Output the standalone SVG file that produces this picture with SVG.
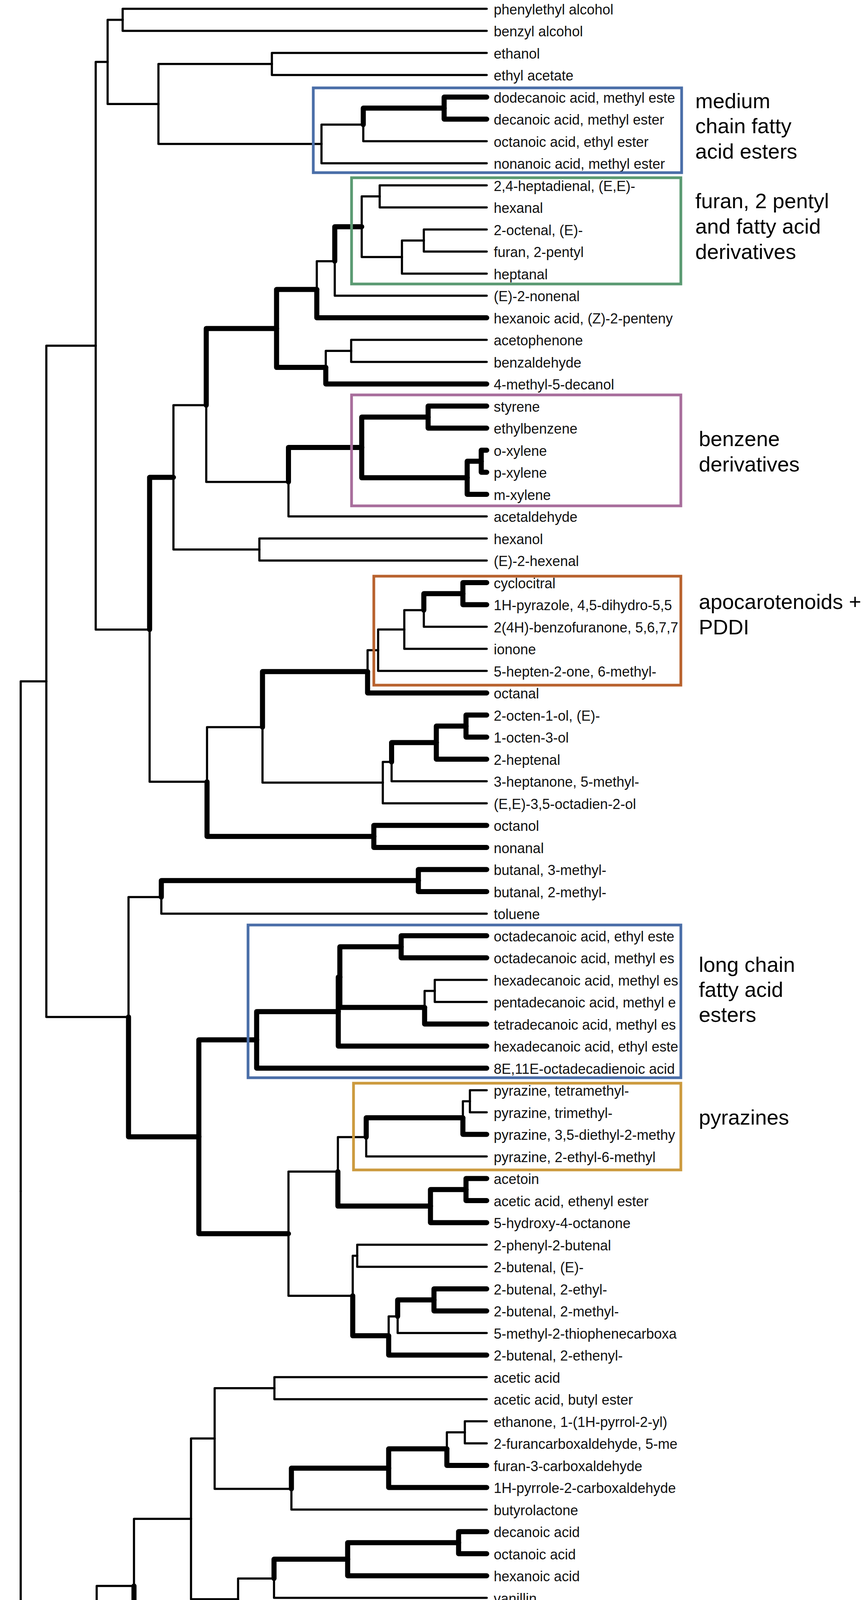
<svg xmlns="http://www.w3.org/2000/svg" width="2217" height="4788" viewBox="0 0 2217 4788">
<style>
.t{fill:none;stroke:#000;stroke-width:5.5;stroke-linecap:round;stroke-linejoin:round}
.k{fill:none;stroke:#000;stroke-width:13;stroke-linecap:round;stroke-linejoin:round}
.lab{font-family:"Liberation Sans",Arial,Helvetica,sans-serif;font-size:36px;fill:#111}
.ann{font-family:"Liberation Sans",Arial,Helvetica,sans-serif;font-size:54px;fill:#000}
.box{fill:none;stroke-width:7}
.axl{font-family:"Liberation Sans",Arial,Helvetica,sans-serif;font-size:38px;fill:#111;text-anchor:middle}
</style>
<rect x="0" y="0" width="2217" height="4788" fill="#fff"/>
<g id="connectors">
<g id="thin-edges">
<path class="t" d="M314 50.75V22.5H1246"/><path class="t" d="M314 50.75V79H1246"/>
<path class="t" d="M696 163.75V135.5H1246"/><path class="t" d="M696 163.75V192H1246"/>
<path class="t" d="M930 319.1V361.5H1246"/>
<path class="t" d="M823 368.6V319.1H930"/><path class="t" d="M823 368.6V418H1246"/>
<path class="t" d="M405.6 266.2V163.75H696"/><path class="t" d="M405.6 266.2V368.6H823"/>
<path class="t" d="M275.5 158.5V50.75H314"/><path class="t" d="M275.5 158.5V266.2H405.6"/>
<path class="t" d="M245 885V158.5H275.5"/><path class="t" d="M245 885V1611.7H383"/>
<path class="t" d="M383 1611.7V2001.3H530"/>
<path class="t" d="M444 1222V1037.3H528"/><path class="t" d="M444 1222V1406.75H664"/>
<path class="t" d="M528 1037.3V1233.7H738.5"/>
<path class="t" d="M811 741.1V668.7H857"/>
<path class="t" d="M857 668.7V757H1246"/>
<path class="t" d="M926 580.4V502.75H972"/><path class="t" d="M926 580.4V658.1H1029"/>
<path class="t" d="M972 502.75V474.5H1246"/><path class="t" d="M972 502.75V531H1246"/>
<path class="t" d="M1029 658.1V615.75H1085"/><path class="t" d="M1029 658.1V700.5H1246"/>
<path class="t" d="M1085 615.75V587.5H1246"/><path class="t" d="M1085 615.75V644H1246"/>
<path class="t" d="M834 940.6V898.25H899"/>
<path class="t" d="M899 898.25V870H1246"/><path class="t" d="M899 898.25V926.5H1246"/>
<path class="t" d="M738.5 1233.7V1322H1246"/>
<path class="t" d="M664 1406.75V1378.5H1246"/><path class="t" d="M664 1406.75V1435H1246"/>
<path class="t" d="M530 2001.3V1861.4H672"/>
<path class="t" d="M672 1861.4V2003.5H980"/>
<path class="t" d="M941 1719.3V1664.5H968"/>
<path class="t" d="M968 1664.5V1611.6H1035"/><path class="t" d="M968 1664.5V1717.5H1246"/>
<path class="t" d="M1035 1611.6V1562.1H1085"/><path class="t" d="M1035 1611.6V1661H1246"/>
<path class="t" d="M1085 1562.1V1604.5H1246"/>
<path class="t" d="M980 2003.5V1950.6H1002.5"/><path class="t" d="M980 2003.5V2056.5H1246"/>
<path class="t" d="M1002.5 1950.6V2000H1246"/>
<path class="t" d="M118.6 1744.2V885H245"/><path class="t" d="M118.6 1744.2V2603.4H329"/>
<path class="t" d="M329 2603.4V2296.6H413"/>
<path class="t" d="M413 2296.6V2339H1246"/>
<path class="t" d="M1087 2579.1V2536.75H1113"/>
<path class="t" d="M1113 2536.75V2508.5H1246"/><path class="t" d="M1113 2536.75V2565H1246"/>
<path class="t" d="M738.5 3158.25V2999.3H865"/><path class="t" d="M738.5 3158.25V3317.2H903"/>
<path class="t" d="M865 2999.3V2911.1H937.5"/>
<path class="t" d="M937.5 2911.1V2960.5H1246"/>
<path class="t" d="M1185 2861.6V2819.25H1203"/>
<path class="t" d="M1203 2819.25V2791H1246"/><path class="t" d="M1203 2819.25V2847.5H1246"/>
<path class="t" d="M903 3317.2V3214.75H914.5"/>
<path class="t" d="M914.5 3214.75V3186.5H1246"/><path class="t" d="M914.5 3214.75V3243H1246"/>
<path class="t" d="M995 3419.6V3370.1H1018"/>
<path class="t" d="M1018 3370.1V3412.5H1246"/>
<path class="t" d="M53 3049.5V1744.2H118.6"/><path class="t" d="M53 3049.5V4354.8H141"/>
<path class="t" d="M141 4354.8V4223.6H247.5"/><path class="t" d="M141 4354.8V4486H1246"/>
<path class="t" d="M247.5 4223.6V4060H343"/><path class="t" d="M247.5 4223.6V4387.1H445.5"/>
<path class="t" d="M343 4060V3888.3H489"/>
<path class="t" d="M445.5 4387.1V4429.5H1246"/>
<path class="t" d="M489 3888.3V3682.6H549.5"/><path class="t" d="M489 3888.3V4094H609.5"/>
<path class="t" d="M549.5 3682.6V3553.75H702.5"/><path class="t" d="M549.5 3682.6V3811.5H746"/>
<path class="t" d="M702.5 3553.75V3525.5H1246"/><path class="t" d="M702.5 3553.75V3582H1246"/>
<path class="t" d="M746 3811.5V3864.5H1246"/>
<path class="t" d="M1144 3709.1V3666.75H1190"/>
<path class="t" d="M1190 3666.75V3638.5H1246"/><path class="t" d="M1190 3666.75V3695H1246"/>
<path class="t" d="M609.5 4094V4041H701.5"/><path class="t" d="M609.5 4094V4147H1246"/>
<path class="t" d="M701.5 4041V4090.5H1246"/>
</g>
<g id="thick-edges">
<path class="k" d="M1137 276.75V248.5H1246"/><path class="k" d="M1137 276.75V305H1246"/>
<path class="k" d="M930 319.1V276.75H1137"/>
<path class="k" d="M383 1611.7V1222H444"/>
<path class="k" d="M528 1037.3V840.9H708"/>
<path class="k" d="M708 840.9V741.1H811"/><path class="k" d="M708 840.9V940.6H834"/>
<path class="k" d="M811 741.1V813.5H1246"/>
<path class="k" d="M857 668.7V580.4H926"/>
<path class="k" d="M834 940.6V983H1246"/>
<path class="k" d="M738.5 1233.7V1145.4H926"/>
<path class="k" d="M926 1145.4V1067.75H1096"/><path class="k" d="M926 1145.4V1223.1H1196"/>
<path class="k" d="M1096 1067.75V1039.5H1246"/><path class="k" d="M1096 1067.75V1096H1246"/>
<path class="k" d="M1196 1223.1V1180.75H1232"/><path class="k" d="M1196 1223.1V1265.5H1246"/>
<path class="k" d="M1232 1180.75V1152.5H1246"/><path class="k" d="M1232 1180.75V1209H1246"/>
<path class="k" d="M530 2001.3V2141.25H957"/>
<path class="k" d="M672 1861.4V1719.3H941"/>
<path class="k" d="M941 1719.3V1774H1246"/>
<path class="k" d="M1085 1562.1V1519.75H1185"/>
<path class="k" d="M1185 1519.75V1491.5H1246"/><path class="k" d="M1185 1519.75V1548H1246"/>
<path class="k" d="M1002.5 1950.6V1901.1H1117"/>
<path class="k" d="M1117 1901.1V1858.75H1193"/><path class="k" d="M1117 1901.1V1943.5H1246"/>
<path class="k" d="M1193 1858.75V1830.5H1246"/><path class="k" d="M1193 1858.75V1887H1246"/>
<path class="k" d="M957 2141.25V2113H1246"/><path class="k" d="M957 2141.25V2169.5H1246"/>
<path class="k" d="M329 2603.4V2910.2H509"/>
<path class="k" d="M413 2296.6V2254.25H1071"/>
<path class="k" d="M1071 2254.25V2226H1246"/><path class="k" d="M1071 2254.25V2282.5H1246"/>
<path class="k" d="M509 2910.2V2662.1H657"/><path class="k" d="M509 2910.2V3158.25H738.5"/>
<path class="k" d="M657 2662.1V2589.7H866"/><path class="k" d="M657 2662.1V2734.5H1246"/>
<path class="k" d="M866 2589.7V2501.4H870"/><path class="k" d="M866 2589.7V2678H1246"/>
<path class="k" d="M870 2501.4V2423.75H1027"/><path class="k" d="M870 2501.4V2579.1H1087"/>
<path class="k" d="M1027 2423.75V2395.5H1246"/><path class="k" d="M1027 2423.75V2452H1246"/>
<path class="k" d="M1087 2579.1V2621.5H1246"/>
<path class="k" d="M865 2999.3V3087.6H1102"/>
<path class="k" d="M937.5 2911.1V2861.6H1185"/>
<path class="k" d="M1185 2861.6V2904H1246"/>
<path class="k" d="M1102 3087.6V3045.25H1193"/><path class="k" d="M1102 3087.6V3130H1246"/>
<path class="k" d="M1193 3045.25V3017H1246"/><path class="k" d="M1193 3045.25V3073.5H1246"/>
<path class="k" d="M903 3317.2V3419.6H995"/>
<path class="k" d="M995 3419.6V3469H1246"/>
<path class="k" d="M1018 3370.1V3327.75H1111"/>
<path class="k" d="M1111 3327.75V3299.5H1246"/><path class="k" d="M1111 3327.75V3356H1246"/>
<path class="k" d="M343 4060V4231.75H1067.6"/>
<path class="k" d="M1067.6 4231.75V4203.5H1246"/><path class="k" d="M1067.6 4231.75V4260H1246"/>
<path class="k" d="M445.5 4387.1V4344.75H1011"/>
<path class="k" d="M1011 4344.75V4316.5H1246"/><path class="k" d="M1011 4344.75V4373H1246"/>
<path class="k" d="M746 3811.5V3758.6H995"/>
<path class="k" d="M995 3758.6V3709.1H1144"/><path class="k" d="M995 3758.6V3808H1246"/>
<path class="k" d="M1144 3709.1V3751.5H1246"/>
<path class="k" d="M701.5 4041V3991.6H890"/>
<path class="k" d="M890 3991.6V3949.25H1174"/><path class="k" d="M890 3991.6V4034H1246"/>
<path class="k" d="M1174 3949.25V3921H1246"/><path class="k" d="M1174 3949.25V3977.5H1246"/>
</g>
</g>
<g id="leaves">
<g id="leaf-1"><text class="lab" x="1264" y="36.5">phenylethyl alcohol</text></g>
<g id="leaf-2"><text class="lab" x="1264" y="93">benzyl alcohol</text></g>
<g id="leaf-3"><text class="lab" x="1264" y="149.5">ethanol</text></g>
<g id="leaf-4"><text class="lab" x="1264" y="206">ethyl acetate</text></g>
<g id="leaf-5"><text class="lab" x="1264" y="262.5">dodecanoic acid, methyl este</text></g>
<g id="leaf-6"><text class="lab" x="1264" y="319">decanoic acid, methyl ester</text></g>
<g id="leaf-7"><text class="lab" x="1264" y="375.5">octanoic acid, ethyl ester</text></g>
<g id="leaf-8"><text class="lab" x="1264" y="432">nonanoic acid, methyl ester</text></g>
<g id="leaf-9"><text class="lab" x="1264" y="488.5">2,4-heptadienal, (E,E)-</text></g>
<g id="leaf-10"><text class="lab" x="1264" y="545">hexanal</text></g>
<g id="leaf-11"><text class="lab" x="1264" y="601.5">2-octenal, (E)-</text></g>
<g id="leaf-12"><text class="lab" x="1264" y="658">furan, 2-pentyl</text></g>
<g id="leaf-13"><text class="lab" x="1264" y="714.5">heptanal</text></g>
<g id="leaf-14"><text class="lab" x="1264" y="771">(E)-2-nonenal</text></g>
<g id="leaf-15"><text class="lab" x="1264" y="827.5">hexanoic acid, (Z)-2-penteny</text></g>
<g id="leaf-16"><text class="lab" x="1264" y="884">acetophenone</text></g>
<g id="leaf-17"><text class="lab" x="1264" y="940.5">benzaldehyde</text></g>
<g id="leaf-18"><text class="lab" x="1264" y="997">4-methyl-5-decanol</text></g>
<g id="leaf-19"><text class="lab" x="1264" y="1053.5">styrene</text></g>
<g id="leaf-20"><text class="lab" x="1264" y="1110">ethylbenzene</text></g>
<g id="leaf-21"><text class="lab" x="1264" y="1166.5">o-xylene</text></g>
<g id="leaf-22"><text class="lab" x="1264" y="1223">p-xylene</text></g>
<g id="leaf-23"><text class="lab" x="1264" y="1279.5">m-xylene</text></g>
<g id="leaf-24"><text class="lab" x="1264" y="1336">acetaldehyde</text></g>
<g id="leaf-25"><text class="lab" x="1264" y="1392.5">hexanol</text></g>
<g id="leaf-26"><text class="lab" x="1264" y="1449">(E)-2-hexenal</text></g>
<g id="leaf-27"><text class="lab" x="1264" y="1505.5">cyclocitral</text></g>
<g id="leaf-28"><text class="lab" x="1264" y="1562">1H-pyrazole, 4,5-dihydro-5,5</text></g>
<g id="leaf-29"><text class="lab" x="1264" y="1618.5">2(4H)-benzofuranone, 5,6,7,7</text></g>
<g id="leaf-30"><text class="lab" x="1264" y="1675">ionone</text></g>
<g id="leaf-31"><text class="lab" x="1264" y="1731.5">5-hepten-2-one, 6-methyl-</text></g>
<g id="leaf-32"><text class="lab" x="1264" y="1788">octanal</text></g>
<g id="leaf-33"><text class="lab" x="1264" y="1844.5">2-octen-1-ol, (E)-</text></g>
<g id="leaf-34"><text class="lab" x="1264" y="1901">1-octen-3-ol</text></g>
<g id="leaf-35"><text class="lab" x="1264" y="1957.5">2-heptenal</text></g>
<g id="leaf-36"><text class="lab" x="1264" y="2014">3-heptanone, 5-methyl-</text></g>
<g id="leaf-37"><text class="lab" x="1264" y="2070.5">(E,E)-3,5-octadien-2-ol</text></g>
<g id="leaf-38"><text class="lab" x="1264" y="2127">octanol</text></g>
<g id="leaf-39"><text class="lab" x="1264" y="2183.5">nonanal</text></g>
<g id="leaf-40"><text class="lab" x="1264" y="2240">butanal, 3-methyl-</text></g>
<g id="leaf-41"><text class="lab" x="1264" y="2296.5">butanal, 2-methyl-</text></g>
<g id="leaf-42"><text class="lab" x="1264" y="2353">toluene</text></g>
<g id="leaf-43"><text class="lab" x="1264" y="2409.5">octadecanoic acid, ethyl este</text></g>
<g id="leaf-44"><text class="lab" x="1264" y="2466">octadecanoic acid, methyl es</text></g>
<g id="leaf-45"><text class="lab" x="1264" y="2522.5">hexadecanoic acid, methyl es</text></g>
<g id="leaf-46"><text class="lab" x="1264" y="2579">pentadecanoic acid, methyl e</text></g>
<g id="leaf-47"><text class="lab" x="1264" y="2635.5">tetradecanoic acid, methyl es</text></g>
<g id="leaf-48"><text class="lab" x="1264" y="2692">hexadecanoic acid, ethyl este</text></g>
<g id="leaf-49"><text class="lab" x="1264" y="2748.5">8E,11E-octadecadienoic acid</text></g>
<g id="leaf-50"><text class="lab" x="1264" y="2805">pyrazine, tetramethyl-</text></g>
<g id="leaf-51"><text class="lab" x="1264" y="2861.5">pyrazine, trimethyl-</text></g>
<g id="leaf-52"><text class="lab" x="1264" y="2918">pyrazine, 3,5-diethyl-2-methy</text></g>
<g id="leaf-53"><text class="lab" x="1264" y="2974.5">pyrazine, 2-ethyl-6-methyl</text></g>
<g id="leaf-54"><text class="lab" x="1264" y="3031">acetoin</text></g>
<g id="leaf-55"><text class="lab" x="1264" y="3087.5">acetic acid, ethenyl ester</text></g>
<g id="leaf-56"><text class="lab" x="1264" y="3144">5-hydroxy-4-octanone</text></g>
<g id="leaf-57"><text class="lab" x="1264" y="3200.5">2-phenyl-2-butenal</text></g>
<g id="leaf-58"><text class="lab" x="1264" y="3257">2-butenal, (E)-</text></g>
<g id="leaf-59"><text class="lab" x="1264" y="3313.5">2-butenal, 2-ethyl-</text></g>
<g id="leaf-60"><text class="lab" x="1264" y="3370">2-butenal, 2-methyl-</text></g>
<g id="leaf-61"><text class="lab" x="1264" y="3426.5">5-methyl-2-thiophenecarboxa</text></g>
<g id="leaf-62"><text class="lab" x="1264" y="3483">2-butenal, 2-ethenyl-</text></g>
<g id="leaf-63"><text class="lab" x="1264" y="3539.5">acetic acid</text></g>
<g id="leaf-64"><text class="lab" x="1264" y="3596">acetic acid, butyl ester</text></g>
<g id="leaf-65"><text class="lab" x="1264" y="3652.5">ethanone, 1-(1H-pyrrol-2-yl)</text></g>
<g id="leaf-66"><text class="lab" x="1264" y="3709">2-furancarboxaldehyde, 5-me</text></g>
<g id="leaf-67"><text class="lab" x="1264" y="3765.5">furan-3-carboxaldehyde</text></g>
<g id="leaf-68"><text class="lab" x="1264" y="3822">1H-pyrrole-2-carboxaldehyde</text></g>
<g id="leaf-69"><text class="lab" x="1264" y="3878.5">butyrolactone</text></g>
<g id="leaf-70"><text class="lab" x="1264" y="3935">decanoic acid</text></g>
<g id="leaf-71"><text class="lab" x="1264" y="3991.5">octanoic acid</text></g>
<g id="leaf-72"><text class="lab" x="1264" y="4048">hexanoic acid</text></g>
<g id="leaf-73"><text class="lab" x="1264" y="4104.5">vanillin</text></g>
<g id="leaf-74"><text class="lab" x="1264" y="4161">butanoic acid, butyl ester</text></g>
<g id="leaf-75"><text class="lab" x="1264" y="4217.5">2-methoxy-4-vinylphenol</text></g>
<g id="leaf-76"><text class="lab" x="1264" y="4274">phenol, 4-ethyl-2-methoxy</text></g>
<g id="leaf-77"><text class="lab" x="1264" y="4330.5">nonanoic acid</text></g>
<g id="leaf-78"><text class="lab" x="1264" y="4387">hexanoic acid, 2-ethyl-</text></g>
<g id="leaf-79"><text class="lab" x="1264" y="4443.5">2-pyrrolidinone</text></g>
<g id="leaf-80"><text class="lab" x="1264" y="4500">p-cymene</text></g>
</g>
<g id="group-medium-chain">
<rect class="box" x="802" y="225" width="943" height="217" stroke="#4a6ea8"/>
<text class="ann" x="1780" y="277">medium</text>
<text class="ann" x="1780" y="341">chain fatty</text>
<text class="ann" x="1780" y="406">acid esters</text>
</g>
<g id="group-furan">
<rect class="box" x="900" y="455" width="843" height="272" stroke="#5a9a72"/>
<text class="ann" x="1780" y="533">furan, 2 pentyl</text>
<text class="ann" x="1780" y="598">and fatty acid</text>
<text class="ann" x="1780" y="663">derivatives</text>
</g>
<g id="group-benzene">
<rect class="box" x="900" y="1011" width="843" height="284" stroke="#a86e9c"/>
<text class="ann" x="1789" y="1142">benzene</text>
<text class="ann" x="1789" y="1207">derivatives</text>
</g>
<g id="group-apocarotenoids">
<rect class="box" x="957" y="1475" width="786" height="279" stroke="#b8622e"/>
<text class="ann" x="1789" y="1559">apocarotenoids +</text>
<text class="ann" x="1789" y="1624">PDDI</text>
</g>
<g id="group-long-chain">
<rect class="box" x="635" y="2368" width="1108" height="391" stroke="#4a6ea8"/>
<text class="ann" x="1789" y="2488">long chain</text>
<text class="ann" x="1789" y="2552">fatty acid</text>
<text class="ann" x="1789" y="2616">esters</text>
</g>
<g id="group-pyrazines">
<rect class="box" x="905" y="2773" width="838" height="222" stroke="#cc9a3e"/>
<text class="ann" x="1789" y="2879">pyrazines</text>
</g>
<g id="axis">
<path d="M31 4695H1244" fill="none" stroke="#000" stroke-width="6" stroke-linecap="round"/>
<path d="M31 4695V4722M273.6 4695V4722M516.2 4695V4722M758.8 4695V4722M1001.4 4695V4722M1244 4695V4722" fill="none" stroke="#000" stroke-width="5"/>
<text class="axl" x="31" y="4776">1.0</text>
<text class="axl" x="273.6" y="4776">0.8</text>
<text class="axl" x="516.2" y="4776">0.6</text>
<text class="axl" x="758.8" y="4776">0.4</text>
<text class="axl" x="1001.4" y="4776">0.2</text>
<text class="axl" x="1244" y="4776">0.0</text>
</g>
</svg>
